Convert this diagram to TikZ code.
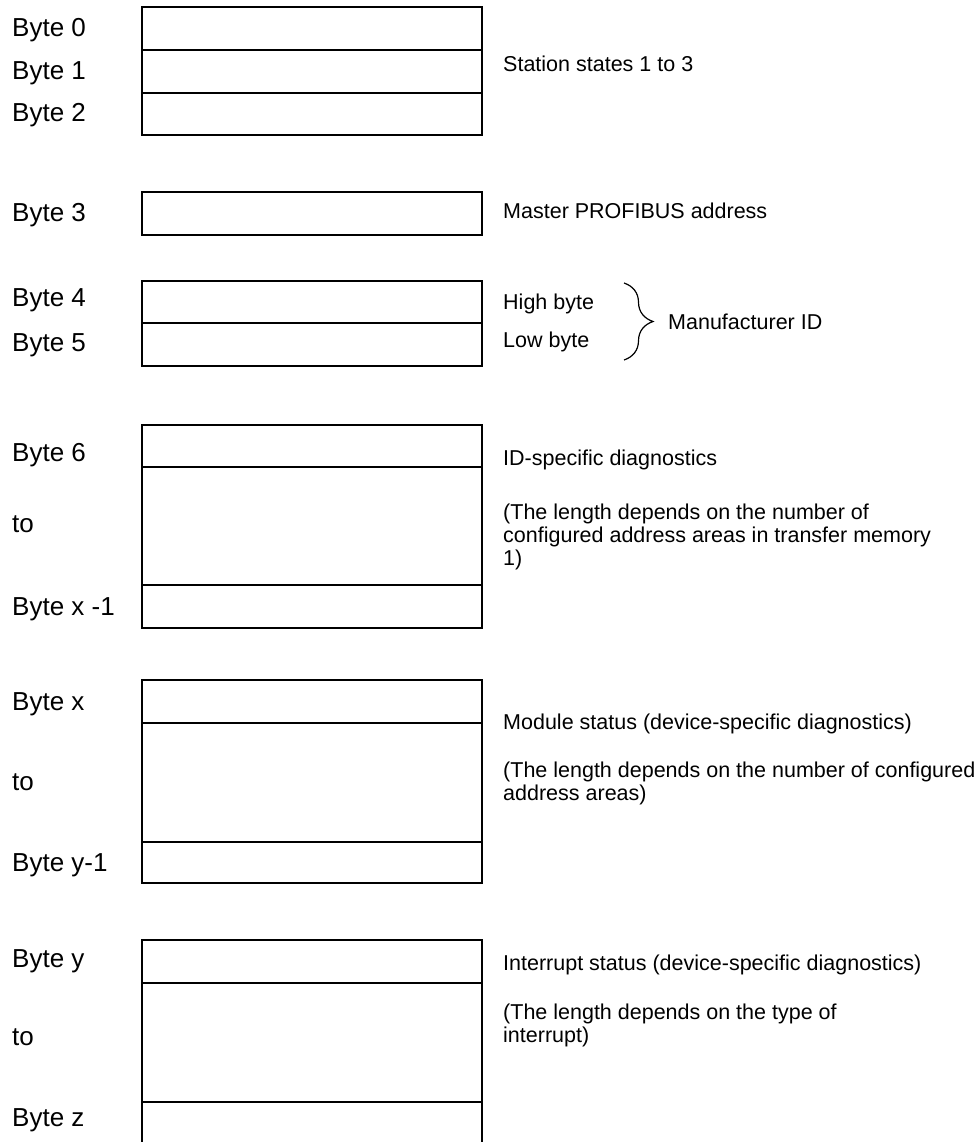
\documentclass[tikz,border=0pt]{standalone}
\usepackage{fontspec}
\setmainfont{Liberation Sans}
\usetikzlibrary{decorations.pathreplacing}
\begin{document}
\begin{tikzpicture}[x=1pt,y=-1pt,
  cell/.style={draw, line width=1.8pt, minimum width=340pt, inner sep=0pt, outer sep=0pt},
  opencell/.style={minimum width=340pt, inner sep=0pt, outer sep=0pt},
  side/.style={line width=1.8pt},
  lab/.style={anchor=base west, inner sep=0pt, font=\fontsize{26}{30}\selectfont},
  note/.style={anchor=base west, inner sep=0pt, font=\fontsize{21.5}{24}\selectfont},
  brc/.style={decorate, decoration={brace, amplitude=29pt}, line width=1.2pt}
]
\useasboundingbox (0,0) rectangle (979,1142);
% cells
\node[cell, minimum height=43pt] (b0) at (312,28.5) {};
\node[cell, minimum height=43pt] (b1) at (312,71.5) {};
\node[cell, minimum height=42pt] (b2) at (312,114) {};
\node[cell, minimum height=43pt] (b3) at (312,213.5) {};
\node[cell, minimum height=42pt] (b4) at (312,302) {};
\node[cell, minimum height=43pt] (b5) at (312,344.5) {};
\node[cell, minimum height=42pt] (b6) at (312,446) {};
\node[cell, minimum height=118pt] (b6m) at (312,526) {};
\node[cell, minimum height=43pt] (b6e) at (312,606.5) {};
\node[cell, minimum height=43pt] (bx) at (312,701.5) {};
\node[cell, minimum height=119pt] (bxm) at (312,782.5) {};
\node[cell, minimum height=41pt] (bxe) at (312,862.5) {};
\node[cell, minimum height=43pt] (by) at (312,961.5) {};
\node[cell, minimum height=119pt] (bym) at (312,1042.5) {};
\node[opencell, minimum height=50pt] (bz) at (312,1127) {};
\draw[side] (bz.north west) -- (bz.south west);
\draw[side] (bz.north east) -- (bz.south east);
% left labels
\node[lab] (l0) at (12,37) {Byte 0};
\node[lab] (l1) at (12,80) {Byte 1};
\node[lab] (l2) at (12,122) {Byte 2};
\node[lab] (l3) at (12,221) {Byte 3};
\node[lab] (l4) at (12,306) {Byte 4};
\node[lab] (l5) at (12,351) {Byte 5};
\node[lab] (l6) at (12,461) {Byte 6};
\node[lab] (l6t) at (12,532) {to};
\node[lab] (l6e) at (12,615) {Byte x -1};
\node[lab] (lx) at (12,710) {Byte x};
\node[lab] (lxt) at (12,790) {to};
\node[lab] (lxe) at (12,871) {Byte y-1};
\node[lab] (ly) at (12,967) {Byte y};
\node[lab] (lyt) at (12,1045) {to};
\node[lab] (lz) at (12,1126) {Byte z};
% right notes
\node[note] (n0) at (503,72) {Station states 1 to 3};
\node[note] (n3) at (503,218) {Master PROFIBUS address};
\node[note] (n4) at (503,309) {High byte};
\node[note] (n5) at (503,347) {Low byte};
\coordinate (brt) at (624,283);
\coordinate (brb) at (624,360);
\draw[brc] (brt) -- (brb);
\node[note] (nm) at (668,329) {Manufacturer ID};
\node[note] (n6) at (503,465) {ID-specific diagnostics};
\node[note] (n6a) at (503,519) {(The length depends on the number of};
\node[note] (n6b) at (503,542) {configured address areas in transfer memory};
\node[note] (n6c) at (503,565) {1)};
\node[note] (nx) at (503,729) {Module status (device-specific diagnostics)};
\node[note] (nxa) at (503,777) {(The length depends on the number of configured};
\node[note] (nxb) at (503,800) {address areas)};
\node[note] (ny) at (503,970) {Interrupt status (device-specific diagnostics)};
\node[note] (nya) at (503,1019) {(The length depends on the type of};
\node[note] (nyb) at (503,1042) {interrupt)};
\end{tikzpicture}
\end{document}
